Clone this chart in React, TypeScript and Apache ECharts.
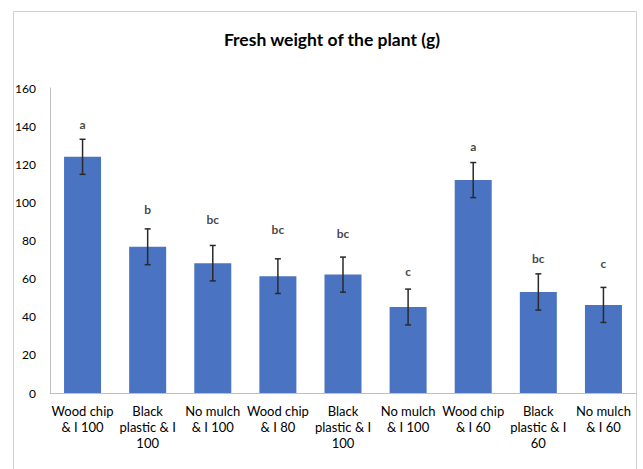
import React, { useEffect, useRef } from "react";
import * as echarts from "echarts";

const categories = [
  "Wood chip\n& I 100",
  "Black\nplastic & I\n100",
  "No mulch\n& I 100",
  "Wood chip\n& I 80",
  "Black\nplastic & I\n100",
  "No mulch\n& I 100",
  "Wood chip\n& I 60",
  "Black\nplastic & I\n60",
  "No mulch\n& I 60",
];
const means = [123.9, 76.7, 68.1, 61.3, 62.1, 45.1, 111.7, 53.0, 46.2];
const errors = [9.2, 9.4, 9.3, 9.1, 9.2, 9.4, 9.2, 9.5, 9.2];
const letters = ["a", "b", "bc", "bc", "bc", "c", "a", "bc", "c"];
const letterPos = [140.7, 96.2, 91.0, 85.8, 83.7, 63.8, 129.2, 70.6, 68.0];
const yTicks = { min: 0, max: 160, interval: 20 };

const FONT = "Lato, 'Open Sans', sans-serif";

export default function App() {
  const ref = useRef<HTMLDivElement>(null);
  useEffect(() => {
    if (!ref.current) return;
    const chart = echarts.init(ref.current, null, { renderer: "svg" });
    const option: any = {
      animation: false,
      backgroundColor: "#ffffff",
      graphic: [
        {
          type: "rect",
          shape: { x: 13.5, y: 11.5, width: 623, height: 480 },
          style: { fill: "none", stroke: "#d0d0d0", lineWidth: 1 },
          silent: true,
        },
      ],
      title: {
        text: "Fresh weight of the plant (g)",
        left: 327,
        top: 25,
        textAlign: "center",
        textStyle: { fontFamily: FONT, fontWeight: "bold", fontSize: 17.5, color: "#000" },
      },
      grid: { left: 50, right: 7, top: 88, bottom: 76 },
      xAxis: {
        type: "category",
        data: categories,
        axisLine: { lineStyle: { color: "#bfbfbf" } },
        axisTick: { show: false },
        axisLabel: {
          interval: 0,
          margin: 10,
          fontFamily: FONT,
          fontSize: 13,
          lineHeight: 16,
          color: "#000",
        },
      },
      yAxis: {
        type: "value",
        min: yTicks.min,
        max: yTicks.max,
        interval: yTicks.interval,
        axisLine: { show: true, lineStyle: { color: "#bfbfbf" } },
        axisTick: { show: false },
        splitLine: { show: false },
        axisLabel: { margin: 14, fontFamily: FONT, fontSize: 12, color: "#000" },
      },
      series: [
        {
          type: "bar",
          data: means,
          barWidth: 37,
          itemStyle: { color: "#4a73c2" },
        },
        {
          type: "custom",
          data: means.map((m, i) => [i, m - errors[i], m + errors[i]]),
          renderItem: (params: any, api: any) => {
            const x = api.value(0);
            const lo = api.coord([x, api.value(1)]);
            const hi = api.coord([x, api.value(2)]);
            const cap = 3;
            const style = { stroke: "#2a2a2a", lineWidth: 1.5 };
            return {
              type: "group",
              children: [
                { type: "line", shape: { x1: lo[0], y1: lo[1], x2: hi[0], y2: hi[1] }, style },
                { type: "line", shape: { x1: hi[0] - cap, y1: hi[1], x2: hi[0] + cap, y2: hi[1] }, style },
                { type: "line", shape: { x1: lo[0] - cap, y1: lo[1], x2: lo[0] + cap, y2: lo[1] }, style },
              ],
            };
          },
          z: 5,
        },
        {
          type: "scatter",
          data: letterPos.map((v, i) => [i, v]),
          symbolSize: 0,
          label: {
            show: true,
            position: "inside",
            formatter: (p: any) => letters[p.dataIndex],
            fontFamily: FONT,
            fontSize: 12,
            fontWeight: "bold",
            color: "#111",
          },
        },
      ],
    };
    chart.setOption(option);
    return () => chart.dispose();
  }, []);
  return (
    <div
      ref={ref}
      style={{ position: "absolute", left: 0, top: 0, width: 643, height: 469 }}
    />
  );
}
